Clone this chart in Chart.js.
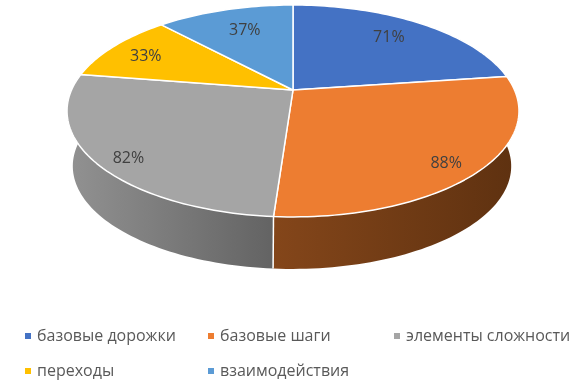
<!DOCTYPE html>
<html>
<head>
<meta charset="utf-8">
<style>
  html, body { margin: 0; padding: 0; background: #fff; }
  canvas { display: block; }
</style>
<script src="https://cdn.jsdelivr.net/npm/chart.js@4"></script>
</head>
<body>
<canvas id="myChart" width="584" height="385"></canvas>
<script>
// DATA
const categories = ["базовые дорожки", "базовые шаги", "элементы сложности", "переходы", "взаимодействия"];
const values = [71, 88, 82, 33, 37];
const colors = ["#4472c4", "#ed7d31", "#a5a5a5", "#ffc000", "#5b9bd5"];
const sideFrom = ["#2f5597", "#84461a", "#929292", "#b38600", "#3f6f9c"];
const sideTo = ["#2f5597", "#5e3110", "#636363", "#b38600", "#3f6f9c"];

// label placement: fraction of radius + small vertical nudge
const labelRadius = [0.73, 0.84, 0.85, 0.81, 0.67];
const labelNudge = [-2, 7, 8, 3, -3];

// legend layout
const legendCols = [25, 208, 394];
const legendRows = [336, 371];

// tilted disc (perspective, near edge is bigger)
const disc = { x: 293, y: 90, a: 221.5, b: 101.8, k: 0.198 };
const depth = { dx: -1, dy: 55.8, scale: 0.97 };

function project(angle, r, bottom) {
  const u = Math.cos(angle) * r;
  const v = Math.sin(angle) * r;
  const w = 1 - disc.k * v;
  const s = bottom ? depth.scale : 1;
  return {
    x: disc.x + (bottom ? depth.dx : 0) + (disc.a * s * u) / w,
    y: disc.y + (bottom ? depth.dy : 0) + (disc.b * s * v) / w,
  };
}

function rimPoints(start, end, bottom) {
  const n = Math.max(2, Math.ceil((end - start) * 40));
  const pts = [];
  for (let i = 0; i <= n; i++) {
    pts.push(project(start + ((end - start) * i) / n, 1, bottom));
  }
  return pts;
}

// top of each slice is drawn from the angles the doughnut controller worked out
Chart.ArcElement.prototype.draw = function (ctx) {
  const { startAngle, endAngle } = this.getProps(["startAngle", "endAngle"]);
  const opts = this.options;
  const pts = rimPoints(startAngle, endAngle, false);
  ctx.save();
  ctx.beginPath();
  ctx.moveTo(disc.x, disc.y);
  pts.forEach((p) => ctx.lineTo(p.x, p.y));
  ctx.closePath();
  ctx.fillStyle = opts.backgroundColor;
  ctx.fill();
  ctx.strokeStyle = opts.borderColor;
  ctx.lineWidth = opts.borderWidth;
  ctx.lineJoin = "round";
  ctx.stroke();
  ctx.restore();
};

const sidePlugin = {
  id: "sides",
  beforeDatasetsDraw(chart) {
    const { ctx } = chart;
    chart.getDatasetMeta(0).data.forEach((arc, i) => {
      const { startAngle, endAngle } = arc.getProps(["startAngle", "endAngle"]);
      // only the part facing the viewer
      const from = Math.max(startAngle, -0.15);
      const to = Math.min(endAngle, Math.PI + 0.15);
      if (to <= from) return;
      const top = rimPoints(from, to, false);
      const bot = rimPoints(from, to, true);
      const xs = top.concat(bot).map((p) => p.x);
      const grad = ctx.createLinearGradient(Math.min(...xs), 0, Math.max(...xs), 0);
      grad.addColorStop(0, sideFrom[i]);
      grad.addColorStop(1, sideTo[i]);
      ctx.save();
      ctx.beginPath();
      top.forEach((p, n) => (n ? ctx.lineTo(p.x, p.y) : ctx.moveTo(p.x, p.y)));
      bot.reverse().forEach((p) => ctx.lineTo(p.x, p.y));
      ctx.closePath();
      ctx.fillStyle = grad;
      ctx.fill();
      // seam between two visible sides
      if (startAngle > 0 && startAngle < Math.PI) {
        const a = project(startAngle, 1, false);
        const b = project(startAngle, 1, true);
        ctx.beginPath();
        ctx.moveTo(a.x, a.y);
        ctx.lineTo(b.x, b.y);
        ctx.strokeStyle = "#fff";
        ctx.lineWidth = 1.5;
        ctx.stroke();
      }
      ctx.restore();
    });
  },
  afterDatasetsDraw(chart) {
    const { ctx } = chart;
    ctx.save();
    ctx.font = "16px 'Open Sans'";
    ctx.textAlign = "center";
    ctx.textBaseline = "middle";
    ctx.fillStyle = "#404040";
    chart.getDatasetMeta(0).data.forEach((arc, i) => {
      const { startAngle, endAngle } = arc.getProps(["startAngle", "endAngle"]);
      const p = project((startAngle + endAngle) / 2, labelRadius[i], false);
      ctx.fillText(values[i] + "%", p.x, p.y + labelNudge[i]);
    });
    ctx.restore();

    // legend goes in fixed columns, the built-in one packs items together
    ctx.save();
    ctx.font = "16px 'Open Sans'";
    ctx.textBaseline = "middle";
    categories.forEach((name, i) => {
      const col = legendCols[i % 3];
      const row = legendRows[Math.floor(i / 3)];
      ctx.fillStyle = colors[i];
      ctx.fillRect(col, row - 3, 6, 6);
      ctx.fillStyle = "#595959";
      ctx.fillText(name, col + 12, row);
    });
    ctx.restore();
  },
};

new Chart(document.getElementById("myChart"), {
  type: "pie",
  data: {
    labels: categories,
    datasets: [
      {
        data: values,
        backgroundColor: colors,
        borderColor: "#fff",
        borderWidth: 1.5,
      },
    ],
  },
  options: {
    responsive: false,
    animation: false,
    plugins: {
      legend: { display: false },
      tooltip: { enabled: false },
    },
  },
  plugins: [sidePlugin],
});
</script>
</body>
</html>
